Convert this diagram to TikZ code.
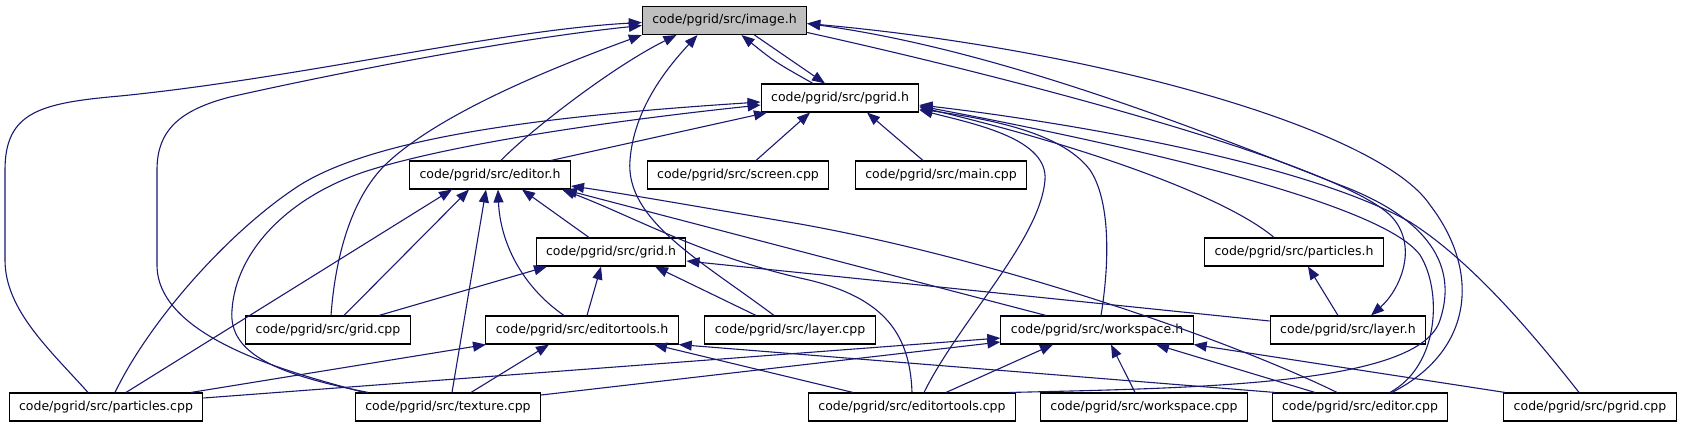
\documentclass[tikz,border=0pt]{standalone}
\usepackage{fontspec}
\setmainfont{DejaVu Sans}
\usetikzlibrary{arrows.meta}

\definecolor{edgeblue}{HTML}{191970}
\definecolor{rootgray}{HTML}{BFBFBF}

\tikzset{
  file/.style={draw, line width=1.1pt, fill=white, inner xsep=10pt, inner ysep=0pt,
    minimum height=28pt, font=\fontsize{12.5}{15}\selectfont},
  root/.style={file, fill=rootgray},
  dep/.style={edgeblue, line width=1.1pt, -{Triangle[length=13pt,width=10pt]}}
}

\begin{document}
\begin{tikzpicture}[x=1pt,y=-1pt]
\useasboundingbox (0,0) rectangle (1682,426);

% Headers (upper rows)
\node[root] (imageh) at (724.5,20.5) {code/pgrid/src/image.h};
\node[file] (pgridh) at (840,98) {code/pgrid/src/pgrid.h};
\node[file] (editorh) at (490,175) {code/pgrid/src/editor.h};
\node[file] (screencpp) at (738,175) {code/pgrid/src/screen.cpp};
\node[file] (maincpp) at (941,175) {code/pgrid/src/main.cpp};
\node[file] (gridh) at (611,252) {code/pgrid/src/grid.h};
\node[file] (particlesh) at (1294,252) {code/pgrid/src/particles.h};

% Middle row
\node[file] (gridcpp) at (328,330) {code/pgrid/src/grid.cpp};
\node[file] (editortoolsh) at (582,330) {code/pgrid/src/editortools.h};
\node[file] (layercpp) at (790,330) {code/pgrid/src/layer.cpp};
\node[file] (workspaceh) at (1097,330) {code/pgrid/src/workspace.h};
\node[file] (layerh) at (1348,330) {code/pgrid/src/layer.h};

% Bottom row
\node[file] (particlescpp) at (106,407) {code/pgrid/src/particles.cpp};
\node[file] (texturecpp) at (448,407) {code/pgrid/src/texture.cpp};
\node[file] (editortoolscpp) at (912,407) {code/pgrid/src/editortools.cpp};
\node[file] (workspacecpp) at (1144,407) {code/pgrid/src/workspace.cpp};
\node[file] (editorcpp) at (1360,407) {code/pgrid/src/editor.cpp};
\node[file] (pgridcpp) at (1590,407) {code/pgrid/src/pgrid.cpp};

% Edges into image.h
\draw[dep] ([xshift=-18]particlescpp.north) .. controls (50,350) and (5,310) .. (5,260) -- (5,170)
  .. controls (5,112) and (40,103) .. (120,96) .. controls (300,78) and (500,30) .. ([yshift=-2]imageh.west);
\draw[dep] ([xshift=-84]texturecpp.north) .. controls (300,375) and (157,340) .. (157,265) -- (157,170)
  .. controls (157,130) and (180,110) .. (230,97) .. controls (350,70) and (520,38) .. ([yshift=-5]imageh.west);
\draw[dep] ([xshift=3]gridcpp.north) .. controls (335,260) and (350,200) .. (385,165)
  .. controls (440,112) and (560,65) .. (imageh.south west);
\draw[dep] ([xshift=11]editorh.north) .. controls (525,135) and (610,68) .. ([xshift=-48]imageh.south);
\draw[dep] ([xshift=-16]layercpp.north) .. controls (700,260) and (625,220) .. (630,160)
  .. controls (634,110) and (665,70) .. ([xshift=-27]imageh.south);
\draw[dep] ([xshift=-27]pgridh.north) .. controls (775,62) .. ([xshift=17]imageh.south);
\draw[dep] ([xshift=32]editorcpp.north) .. controls (1475,350) and (1480,270) .. (1430,205)
  .. controls (1380,130) and (1100,50) .. ([yshift=-3]imageh.east);
\draw[dep] ([xshift=98]editortoolscpp.north) .. controls (1200,388) and (1420,385) .. (1440,320)
  .. controls (1460,260) and (1420,215) .. (1340,185) .. controls (1200,130) and (1000,50) .. ([yshift=-3]imageh.east);

% Edges out of image.h
\draw[dep] ([xshift=30]imageh.south) -- ([xshift=-15]pgridh.north);
\draw[dep] ([yshift=-12]imageh.east) .. controls (1000,75) and (1330,160) .. (1390,215)
  .. controls (1420,245) and (1400,290) .. ([xshift=23]layerh.north);

% Edges into pgrid.h
\draw[dep] ([xshift=18]screencpp.north) -- ([xshift=-30]pgridh.south);
\draw[dep] ([xshift=-18]maincpp.north) -- ([xshift=27]pgridh.south);
\draw[dep] ([xshift=61]editorh.north) -- ([xshift=-73]pgridh.south);
\draw[dep] ([xshift=9]particlescpp.north) .. controls (150,320) and (230,230) .. (300,185)
  .. controls (380,135) and (560,115) .. ([yshift=-4]pgridh.west);
\draw[dep] ([xshift=-80]texturecpp.north) .. controls (280,375) and (228,355) .. (232,310)
  .. controls (236,250) and (290,195) .. (370,170) .. controls (450,145) and (600,122) .. ([yshift=-7]pgridh.west);
\draw[dep] ([xshift=12]editortoolscpp.north) .. controls (960,320) and (1040,240) .. (1045,180)
  .. controls (1048,140) and (980,125) .. ([yshift=-12]pgridh.east);
\draw[dep] ([xshift=4]workspaceh.north) .. controls (1110,260) and (1110,200) .. (1090,170)
  .. controls (1060,130) and (980,118) .. ([yshift=-11]pgridh.east);
\draw[dep] ([xshift=-20]particlesh.north) .. controls (1230,200) and (1100,150) .. ([yshift=-9]pgridh.east);
\draw[dep] ([xshift=-11]pgridcpp.north) .. controls (1530,330) and (1470,260) .. (1410,222)
  .. controls (1300,160) and (1050,120) .. ([yshift=-7]pgridh.east);
\draw[dep] ([xshift=30]editorcpp.north) .. controls (1440,365) and (1442,290) .. (1420,255)
  .. controls (1380,200) and (1100,140) .. ([yshift=-8]pgridh.east);

% Edges into editor.h
\draw[dep] ([xshift=20]particlescpp.north) -- ([xshift=-38]editorh.south);
\draw[dep] ([xshift=16]gridcpp.north) -- ([xshift=-21]editorh.south);
\draw[dep] ([xshift=4]texturecpp.north) -- ([xshift=-4]editorh.south);
\draw[dep] ([xshift=-18]editortoolsh.north) .. controls (520,285) and (500,240) .. ([xshift=8]editorh.south);
\draw[dep] ([xshift=-22]gridh.north) -- ([xshift=32]editorh.south);
\draw[dep] ([xshift=-51]workspaceh.north) -- ([xshift=74]editorh.south);
\draw[dep] (editortoolscpp.north) .. controls (910,330) and (880,295) .. (800,278)
  .. controls (700,255) and (630,215) .. ([xshift=72]editorh.south);
\draw[dep] ([xshift=-23]editorcpp.north) .. controls (1230,340) and (1000,260) .. (800,224)
  .. controls (700,207) and (620,193) .. ([yshift=-11]editorh.east);

% Edges into grid.h, particles.h, editortools.h
\draw[dep] ([xshift=51]gridcpp.north) -- ([xshift=-64]gridh.south);
\draw[dep] ([xshift=5]editortoolsh.north) -- ([xshift=-10]gridh.south);
\draw[dep] ([xshift=-34]layercpp.north) -- ([xshift=44]gridh.south);
\draw[dep] ([yshift=9]layerh.west) -- ([yshift=-9]gridh.east);
\draw[dep] ([xshift=-10]layerh.north) -- ([xshift=14]particlesh.south);
\draw[dep] ([xshift=85]particlescpp.north) -- ([xshift=-96]editortoolsh.south);
\draw[dep] ([xshift=23]texturecpp.north) -- ([xshift=-33]editortoolsh.south);
\draw[dep] ([xshift=-59]editortoolscpp.north) -- ([xshift=72]editortoolsh.south);
\draw[dep] ([xshift=-85]editorcpp.north) -- (editortoolsh.south east);

% Edges into workspace.h
\draw[dep] ([yshift=9]particlescpp.east) -- ([yshift=-8]workspaceh.west);
\draw[dep] ([yshift=12]texturecpp.east) -- ([yshift=-12]workspaceh.west);
\draw[dep] ([xshift=34]editortoolscpp.north) -- ([xshift=-44]workspaceh.south);
\draw[dep] ([xshift=-9]workspacecpp.north) -- ([xshift=14]workspaceh.south);
\draw[dep] ([xshift=-45]editorcpp.north) -- ([xshift=59]workspaceh.south);
\draw[dep] ([xshift=-85]pgridcpp.north) -- (workspaceh.south east);
\end{tikzpicture}
\end{document}
